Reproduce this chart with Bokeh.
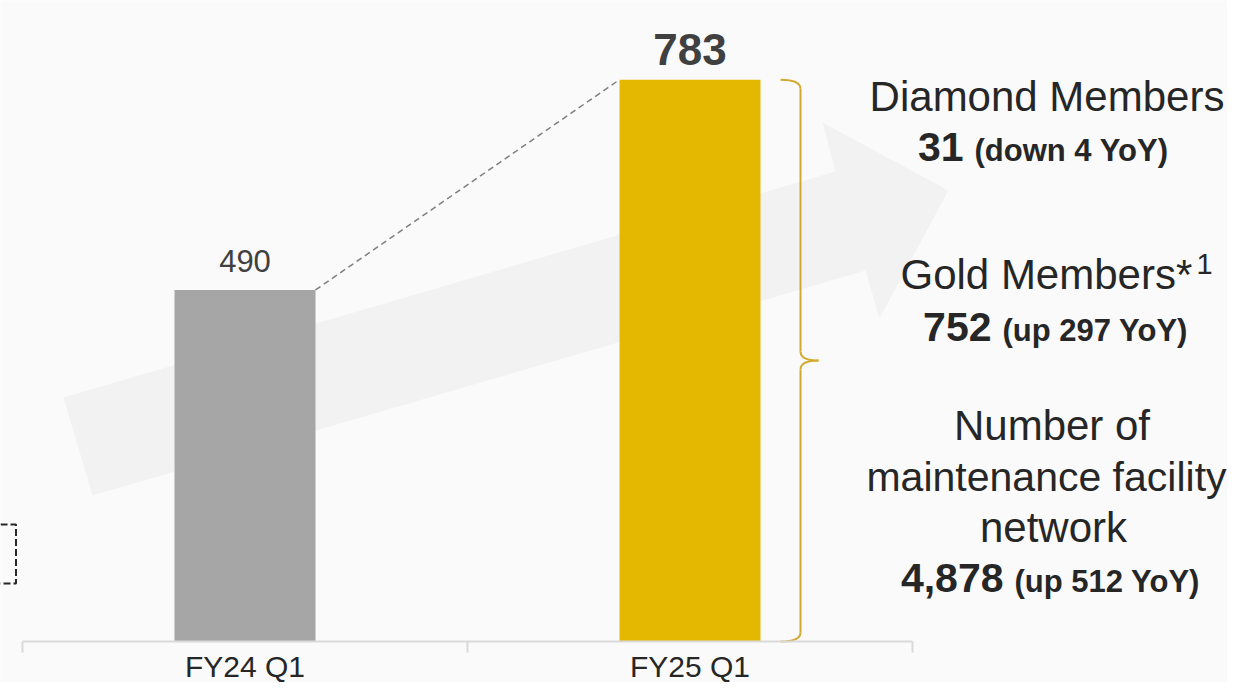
from bokeh.plotting import figure
from bokeh.models import Range1d, FixedTicker, LinearAxis, ColumnDataSource
from bokeh.core.properties import value
from bokeh.embed import file_html
from bokeh.resources import INLINE

# ---------------- data ----------------
categories = ["FY24 Q1", "FY25 Q1"]
members = [490, 783]
bar_colors = ["#A6A6A6", "#E5B800"]

diamond_title = "Diamond Members"
diamond_count = "31"
diamond_change = "(down 4 YoY)"
gold_title = "Gold Members*"
gold_note = "1"
gold_count = "752"
gold_change = "(up 297 YoY)"
network_title = ["Number of", "maintenance facility", "network"]
network_count = "4,878"
network_change = "(up 512 YoY)"

# ---------------- layout helpers ----------------
W, H = 1227, 682
PX_PER_CAT = 445.0
PX_PER_UNIT = 0.7175
X0 = 22.0
Y0 = 641.0
FONT = value("Liberation Sans")


def X(px):
    return (px - X0) / PX_PER_CAT


def Y(py):
    return (Y0 - py) / PX_PER_UNIT


p = figure(width=W, height=H, output_backend="svg", toolbar_location=None,
           x_range=Range1d(X(0), X(W)), y_range=Range1d(Y(H), Y(0)),
           min_border=0, x_axis_type=None, y_axis_type=None)
p.outline_line_color = None
p.background_fill_color = "#FAFAFA"
p.border_fill_color = "#FAFAFA"

# background arrow
arrow_px = [(63, 397), (835, 171), (822, 122), (948, 190), (879, 318), (865, 270), (92, 495)]
p.patch([X(a) for a, b in arrow_px], [Y(b) for a, b in arrow_px],
        fill_color="#F2F2F2", line_color=None)

# dashed box at left edge
p.quad(left=[X(-40)], right=[X(15.5)], top=[Y(524)], bottom=[Y(583)],
       fill_color=None, line_color="#262626", line_dash="7 3", line_width=2)

# bars
BAR_W = 141 / PX_PER_CAT
xs = [i + 0.5 for i in range(len(categories))]
src = ColumnDataSource(dict(x=xs, top=members, color=bar_colors))
p.vbar(x="x", top="top", bottom=0, width=BAR_W, fill_color="color",
       line_color=None, source=src)

# dashed connector
p.line(x=[xs[0] + BAR_W / 2, xs[1] - BAR_W / 2], y=[members[0], members[1]],
       line_dash="6 4", line_color="#7F7F7F", line_width=1.5)

# value labels (y = vertical centre of the digits)
p.text(x=[xs[0]], y=[members[0] + 29 / PX_PER_UNIT], text=[str(members[0])],
       text_font=FONT, text_font_size="31px", text_color="#404040",
       text_align="center", text_baseline="alphabetic")
p.text(x=[xs[1]], y=[members[1] + 30 / PX_PER_UNIT], text=[str(members[1])],
       text_font=FONT, text_font_size="44px", text_font_style="bold",
       text_color="#404040", text_align="center", text_baseline="alphabetic")

# brace
BC = "#D2A92F"
bx = X(800)
bx0 = X(780)
btip = X(818)
r = 9 / PX_PER_UNIT
top = members[1]
mid = members[1] / 2
p.quadratic(x0=[bx0, bx, bx, bx], y0=[top, mid - r, mid + r, r],
            x1=[bx, btip, btip, bx0], y1=[top - r, mid, mid, 0],
            cx=[bx, bx, bx, bx], cy=[top, mid, mid, 0],
            line_color=BC, line_width=2)
p.segment(x0=[bx, bx], y0=[top - r, mid - r], x1=[bx, bx], y1=[mid + r, r],
          line_color=BC, line_width=2)

# right-hand text block (py = vertical centre of capitals)
TC = "#262626"


def txt(px, py, s, size, bold=False, align="center"):
    p.text(x=[X(px)], y=[Y(py)], text=[s], text_font=FONT, text_font_size=size,
           text_font_style="bold" if bold else "normal", text_color=TC,
           text_align=align, text_baseline="alphabetic")


def mixed(right_px, base_py, big, small):
    txt(right_px, base_py - 0.358 * 41, big, "41px", bold=True, align="right")
    txt(right_px + 11, base_py - 0.358 * 31, small, "31px", bold=True, align="left")


txt(1046.5, 96, diamond_title, "42px")
mixed(963, 161, diamond_count, diamond_change)
txt(900, 274, gold_title, "42px", align="left")
txt(1196, 263, gold_note, "29px", align="left")
mixed(991, 341, gold_count, gold_change)
txt(1051.5, 425, network_title[0], "42px")
txt(1046, 476, network_title[1], "41px")
txt(1053, 526.5, network_title[2], "42px")
mixed(1003, 592, network_count, network_change)

# category axis
ax = LinearAxis(fixed_location=0, bounds=(0, len(categories)),
                ticker=FixedTicker(ticks=xs, minor_ticks=list(range(len(categories) + 1))),
                major_label_overrides={x: c for x, c in zip(xs, categories)})
ax.axis_line_color = "#D9D9D9"
ax.axis_line_width = 2
ax.major_tick_line_color = None
ax.major_tick_out = 0
ax.major_tick_in = 0
ax.minor_tick_line_color = "#D9D9D9"
ax.minor_tick_line_width = 2
ax.minor_tick_out = 11
ax.minor_tick_in = 0
ax.major_label_standoff = -3
ax.major_label_text_font = "Liberation Sans"
ax.major_label_text_font_size = "30px"
ax.major_label_text_color = TC
p.add_layout(ax, "below")

open("out.html", "w").write(file_html(p, INLINE))
